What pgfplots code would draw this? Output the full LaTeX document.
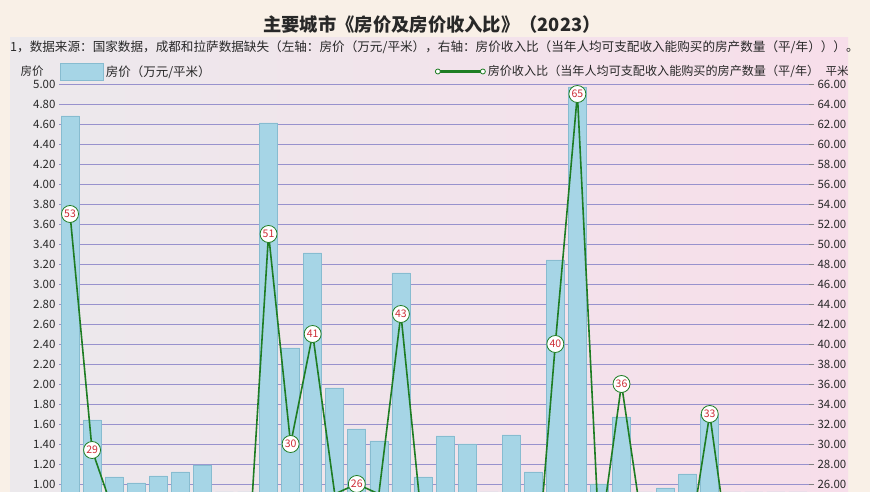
\documentclass[border=0pt]{standalone}
\usepackage{fontspec}
\setmainfont{Noto Sans CJK SC}
\usepackage{pgfplots}
\usepackage{pgfplotstable}
\pgfplotsset{compat=1.18}

\definecolor{cream}{RGB}{249,240,231}
\definecolor{panelL}{RGB}{236,233,236}
\definecolor{panelR}{RGB}{247,222,234}
\definecolor{gridc}{RGB}{152,146,205}
\definecolor{barfill}{RGB}{166,213,230}
\definecolor{baredge}{RGB}{135,188,208}
\definecolor{lineg}{RGB}{30,125,35}
\definecolor{labred}{RGB}{205,45,55}
\definecolor{textc}{RGB}{40,40,40}

% x = city index, price = 万元/平米 (left), ratio = 房价收入比 (right)
\pgfplotstableread{
x price ratio
1  4.68 53
2  1.64 29.4
3  1.07 23
4  1.01 21
5  1.08 20
6  1.12 19
7  1.19 18
8  0.80 17
9  0.85 15.5
10 4.61 51
11 2.36 30
12 3.31 41
13 1.96 25
14 1.55 26
15 1.43 25
16 3.11 43
17 1.07 21
18 1.48 18
19 1.40 17
20 0.80 16
21 1.49 15
22 1.12 13
23 3.24 40
24 4.97 65
25 1.00 20
26 1.67 36
27 0.80 21
28 0.96 19
29 1.10 19
30 1.70 33
31 0.70 17
32 0.80 18
33 0.75 19
34 0.85 20
}\citydata

\begin{document}
\begin{tikzpicture}[x=1pt,y=1pt]
\useasboundingbox (0,0) rectangle (870,492);
\clip (0,0) rectangle (870,492);
\fill[cream] (0,0) rectangle (870,492);
\shade[left color=panelL, right color=panelR] (10,0) rectangle (848,454);

\node[font=\fontsize{18.3}{21}\selectfont\bfseries, text=textc] at (432,467) {主要城市《房价及房价收入比》（2023）};
\node[anchor=west, font=\fontsize{12.6}{14}\selectfont, inner sep=0pt, text=textc] at (10,445)
  {1，数据来源：国家数据，成都和拉萨数据缺失（左轴：房价（万元/平米），右轴：房价收入比（当年人均可支配收入能购买的房产数量（平/年）））。};
\node[font=\fontsize{11.5}{13}\selectfont, text=textc] at (32,421) {房价};
\node[font=\fontsize{11.5}{13}\selectfont, text=textc] at (837,421) {平米};

\begin{axis}[
  at={(59pt,0pt)}, anchor=south west,
  width=750pt, height=408pt, scale only axis,
  xmin=0.5, xmax=34.5, ymin=0.92, ymax=5,
  ybar, bar width=18pt,
  axis line style={draw=none},
  xtick=\empty,
  ytick={1,1.2,1.4,1.6,1.8,2,2.2,2.4,2.6,2.8,3,3.2,3.4,3.6,3.8,4,4.2,4.4,4.6,4.8,5},
  ymajorgrids, grid style={gridc, line width=0.7pt},
  major tick length=0pt,
  yticklabel style={font=\fontsize{11.5}{13}\selectfont, text=textc,
    /pgf/number format/.cd, fixed, fixed zerofill, precision=2, assume math mode=true},
  legend style={at={(0,1)}, anchor=west, xshift=1pt, yshift=12.5pt,
    draw=none, fill=none, inner sep=0pt, font=\fontsize{12.5}{14}\selectfont, text=textc},
  legend image code/.code={\draw[fill=barfill, draw=baredge] (0pt,-8.5pt) rectangle (43pt,8.5pt);},
]
\addplot[fill=barfill, draw=baredge, line width=0.6pt] table[x=x, y=price] {\citydata};
\addlegendentry{房价（万元/平米）}
\end{axis}

\begin{axis}[
  at={(59pt,0pt)}, anchor=south west,
  width=750pt, height=408pt, scale only axis,
  xmin=0.5, xmax=34.5, ymin=25.2, ymax=66,
  axis x line=none, axis y line*=right,
  y axis line style={draw=none},
  ytick={26,28,...,66},
  tick align=outside, major tick length=5pt,
  ytick style={gray, line width=0.6pt},
  yticklabel style={font=\fontsize{11.5}{13}\selectfont, text=textc,
    /pgf/number format/.cd, fixed, fixed zerofill, precision=2, assume math mode=true},
  legend style={at={(0.501,1)}, anchor=west, yshift=12.5pt,
    draw=none, fill=none, inner sep=0pt, font=\fontsize{12.1}{14}\selectfont, text=textc},
  legend image code/.code={
    \draw[lineg, line width=2.5pt] (0pt,0pt) -- (45pt,0pt);
    \draw[lineg, fill=white, line width=0.8pt] (0pt,0pt) circle (2.5pt) (45pt,0pt) circle (2.5pt);},
]
\addplot[lineg, line width=1.6pt, mark=none,
  nodes near coords={\pgfmathprintnumber[fixed,precision=0,assume math mode=true]{\pgfplotspointmeta}},
  every node near coord/.append style={anchor=center, circle, fill=white, draw=lineg,
    line width=0.8pt, text=labred, font=\fontsize{10.5}{11}\selectfont,
    inner sep=0pt, minimum size=17pt}]
  table[x=x, y=ratio] {\citydata};
\addlegendentry{房价收入比（当年人均可支配收入能购买的房产数量（平/年）}
\end{axis}
\end{tikzpicture}
\end{document}
